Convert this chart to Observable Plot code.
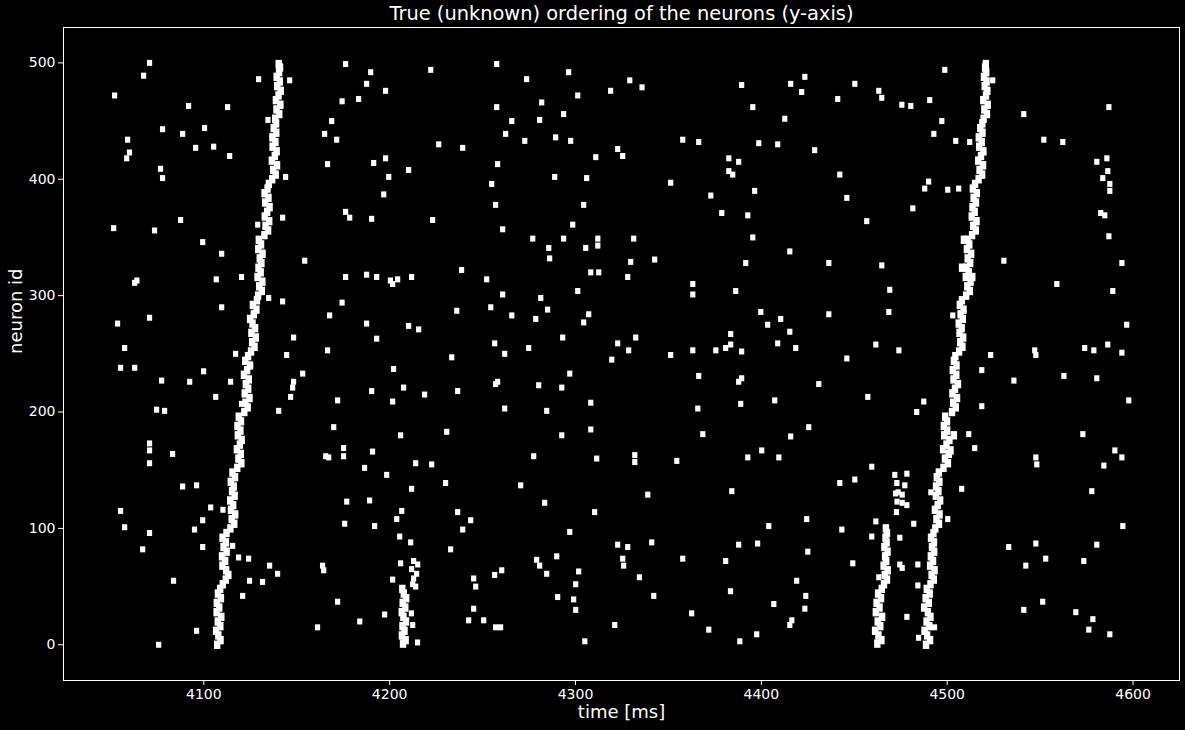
<!DOCTYPE html>
<html><head><meta charset="utf-8">
<script src="https://cdn.jsdelivr.net/npm/d3@7"></script>
<script src="https://cdn.jsdelivr.net/npm/@observablehq/plot@0.6"></script>
<style>
html,body{margin:0;padding:0;background:#000;}
#chart svg{display:block;}
</style></head><body>
<div id="chart"></div>
<script>
const title = "True (unknown) ordering of the neurons (y-axis)";
const xLabel = "time [ms]";
const yLabel = "neuron id";
const xTicks = [4100, 4200, 4300, 4400, 4500, 4600];
const yTicks = [0, 100, 200, 300, 400, 500];

// first full wave (neuron id vs spike time)
const wave1 = [
[4107.2,0],[4109,4],[4107.8,8],[4106.6,12],[4108.9,16],[4107.5,20],[4109.4,24],[4106.9,28],[4108.3,32],[4107,36],[4109.2,40],[4107.6,44],[4108.8,48],
[4110.2,52],[4111.8,56],[4113.2,60],[4112,64],[4110,68],[4111.5,72],[4109.8,76],[4112.3,80],[4110.6,84],[4111.9,88],[4110.1,92],[4112.2,96],
[4114.3,100],[4116.4,104],[4115,108],[4116.9,112],[4114.6,116],[4115.8,120],[4114.2,124],[4116.6,128],[4115.2,132],[4116.1,136],[4114.5,140],[4116.8,144],[4115.4,148],
[4118,152],[4120.2,156],[4118.6,160],[4119.9,164],[4117.8,168],[4119.4,172],[4120.4,176],[4118.3,180],[4119.7,184],[4118.1,188],[4120,192],[4118.8,196],
[4121.8,200],[4123.6,204],[4122.4,208],[4124.6,212],[4122,216],[4123.9,220],[4122.6,224],[4124.2,228],[4121.6,232],[4123.3,236],[4124.8,240],[4122.3,244],[4123.8,248],
[4125.4,252],[4127.3,256],[4126,260],[4128,264],[4125.6,268],[4127.6,272],[4126.2,276],[4124.9,280],[4126.9,284],[4128.3,288],[4126.4,292],[4128.6,296],
[4129.2,300],[4131.2,304],[4129.8,308],[4131.5,312],[4128.9,316],[4130.6,320],[4129.4,324],[4131,328],[4130.1,332],[4131.6,336],[4129.3,340],[4130.8,344],[4129.6,348],
[4132.6,352],[4134.6,356],[4133.2,360],[4135.2,364],[4132.8,368],[4134.1,372],[4135.4,376],[4133,380],[4134.8,384],[4132.7,388],[4134.3,392],[4135,396],
[4136.8,400],[4138.7,404],[4137.3,408],[4139.4,412],[4136.6,416],[4138.2,420],[4139.2,424],[4137,428],[4138.5,432],[4136.9,436],[4139,440],[4137.6,444],[4138.9,448],
[4138.4,452],[4140.6,456],[4139.1,460],[4141.2,464],[4138.8,468],[4140.2,472],[4141.4,476],[4139.5,480],[4140.9,484],[4139.2,488],[4140.5,492],[4141,496],[4140.3,499]
];

// second full wave
const wave2 = [
[4488.6,0],[4490.8,4],[4489.2,8],[4487.8,12],[4490.4,16],[4488.9,20],[4491,24],[4489.6,28],[4487.6,32],[4490.1,36],[4488.4,40],[4490.6,44],[4489,48],
[4491,52],[4492.8,56],[4491.6,60],[4493.2,64],[4490.8,68],[4492.4,72],[4491.2,76],[4493,80],[4491.8,84],[4492.9,88],[4491.3,92],[4492.6,96],
[4493.6,100],[4495.6,104],[4494.2,108],[4495.9,112],[4493.4,116],[4494.9,120],[4496.2,124],[4493.9,128],[4495.3,132],[4494,136],[4495.8,140],[4494.4,144],[4495.5,148],
[4498,152],[4500.4,156],[4498.8,160],[4500.9,164],[4497.8,168],[4499.6,172],[4501.2,176],[4498.4,180],[4500,184],[4498.2,188],[4499.9,192],[4498.9,196],
[4502.6,200],[4504.6,204],[4503.2,208],[4505.3,212],[4502.8,216],[4504.2,220],[4505.8,224],[4503.4,228],[4504.9,232],[4503,236],[4505,240],[4503.6,244],[4504.4,248],
[4506.4,252],[4508.2,256],[4507,260],[4508.6,264],[4506.6,268],[4507.8,272],[4506.2,276],[4508.4,280],[4507.2,284],[4508.8,288],[4506.8,292],[4507.9,296],
[4510.2,300],[4512.2,304],[4510.8,308],[4512.6,312],[4510,316],[4511.6,320],[4510.4,324],[4512.4,328],[4511,332],[4512.9,336],[4510.6,340],[4511.9,344],[4510.9,348],
[4513.4,352],[4515.4,356],[4514,360],[4515.8,364],[4513.2,368],[4514.8,372],[4513.6,376],[4515.5,380],[4514.2,384],[4515.9,388],[4513.8,392],[4515,396],
[4516.9,400],[4518.8,404],[4517.4,408],[4519.3,412],[4516.7,416],[4518.2,420],[4519.5,424],[4517.2,428],[4518.6,432],[4517,436],[4519,440],[4517.8,444],[4518.9,448],
[4519.6,452],[4521.4,456],[4520,460],[4521.8,464],[4519.4,468],[4520.9,472],[4521.6,476],[4520.2,480],[4521.2,484],[4519.8,488],[4521,492],[4520.4,496],[4520.8,499],
[4509,348],[4503.6,180],[4501.8,167],[4508,324],[4513.5,316]
];

// partial wave near 4207 ms
const partialA = [
[4207.2,1],[4208.6,4],[4206.6,8],[4208,12],[4206.9,16],[4208.8,20],[4207.4,24],[4206.5,28],[4208.4,32],[4207,36],[4208.9,40],[4207.6,44],[4206.8,48]
];
const partialAExtra = [
[4212.9,72],[4215.1,69],[4211.8,65],[4214.5,61],[4212.9,57],[4212.4,52],[4214,50]
];

// partial wave near 4465 ms
const partialB = [
[4462.4,1],[4464.6,4],[4463,8],[4461.2,12],[4464,16],[4462.6,20],[4465,24],[4461.6,28],[4463.6,32],[4462,36],[4464.4,40],[4462.8,44],[4464.8,48],
[4466,52],[4467.6,56],[4466.4,60],[4468,64],[4465.8,68],[4467.2,72],[4466.6,76],[4467.9,80],[4466.2,84],[4467.4,88],[4466.8,92],[4467.6,96],[4467,100]
];

// scattered spikes
const scattered = [
[4070.8,500],[4067.6,489],[4052.0,472],[4091.8,463],[4112.8,462],[4129.5,486],[4146.2,485],[4077.8,443],[4100.4,444],[4088.6,439],[4059.0,434],[4060.0,423],[4058.5,418],[4095.6,427],[4105.3,428],[4113.9,420],[4076.7,409],[4077.8,401],[4144.0,402],[4142.4,367],[4129.0,361],[4051.5,358],[4073.5,356],[4087.5,365],[4099.4,346],[4165.0,439],[4168.8,450],[4171.5,434],[4166.6,413],[4134.5,451],
[4109.6,336],[4106.7,314],[4120.3,316],[4154.3,330],[4062.8,311],[4064.0,313],[4109.6,290],[4134.9,298],[4142.4,295],[4167.7,283],[4070.8,281],[4053.6,276],[4057.4,255],[4055.2,238],[4062.8,238],[4077.3,227],[4092.4,226],[4099.9,235],[4114.4,226],[4106.4,213],[4117.1,250],[4125.2,240],[4120.3,207],[4148.3,264],[4144.6,249],[4166.6,253],[4153.2,233],[4148.3,226],[4147.8,221],[4146.7,213],[4140.3,201],[4172.0,210],[4169.9,187],[4165.6,162],[4167.2,161],[4074.6,202],[4078.9,201],[4070.8,173],[4070.8,167],[4083.2,164],
[4070.8,156],[4088.6,136],[4096.1,137],[4055.2,115],[4057.4,101],[4070.8,96],[4067.1,82],[4095.0,99],[4099.4,107],[4099.4,84],[4103.7,118],[4110.3,116],[4115.5,85],[4118.7,75],[4124.1,74],[4135.4,68],[4139.7,61],[4124.6,55],[4131.6,54],[4120.9,42],[4083.7,55],[4096.1,12],[4075.7,0],[4163.9,68],[4164.5,64],[4172.0,37],[4161.2,15],
[4186.5,152],[4198.4,146],[4214.0,156],[4222.6,155],[4211.8,134],[4230.1,139],[4270.5,137],[4176.9,123],[4189.2,124],[4206.5,115],[4203.8,108],[4175.8,104],[4191.9,102],[4236.6,114],[4243.6,107],[4239.3,99],[4283.4,122],[4310.3,114],[4296.9,97],[4232.8,82],[4279.1,73],[4280.7,68],[4284.5,61],[4289.9,76],[4256.5,60],[4260.3,64],[4245.2,57],[4246.3,50],[4245.2,31],[4242.5,21],[4250.6,21],[4257.0,15],[4259.7,15],[4290.4,41],[4299.0,39],[4300.1,30],[4300.1,52],[4301.7,63],[4305.0,3],[4321.1,17],[4322.7,86],[4328.1,84],[4325.4,74],[4325.9,68],[4334.4,58],
[4211.7,27],[4212.4,17],[4215.0,2],[4205.9,70],[4201.6,56],[4197.3,26],[4183.9,20],[4211.3,88],[4205.4,93],
[4354.5,158],[4338.9,129],[4384.1,132],[4459.4,153],[4442.2,139],[4450.3,142],[4461.6,106],[4443.3,99],[4459.4,93],[4474.5,92],[4482.0,104],[4404.0,102],[4424.4,108],[4341.0,88],[4387.8,86],[4398.0,87],[4357.7,74],[4380.8,72],[4425.0,80],[4449.2,70],[4474.5,69],[4475.8,66],[4484.2,69],[4342.1,42],[4383.4,46],[4419.0,55],[4423.9,42],[4423.4,31],[4406.7,35],[4463.2,58],[4362.5,27],[4416.4,21],[4415.3,17],[4371.7,13],[4397.5,9],[4388.4,3],[4478.3,24],[4484.2,51],[4484.6,6],
[4471.8,146],[4478.3,147],[4472.9,139],[4477.2,137],[4472.2,130],[4475.8,129],[4473.6,131],[4473.0,123],[4475.8,122],[4478.3,120],[4472.7,114],
[4491.2,131],[4507.8,134],[4500.3,108],[4548.2,155],[4584.3,154],[4577.8,132],[4594.5,102],[4533.1,84],[4547.7,87],[4553.0,74],[4542.3,68],[4573.5,72],[4580.5,86],[4493.2,15],[4541.2,30],[4551.4,37],[4569.2,28],[4578.4,22],[4576.2,13],[4587.5,9],
[4285.6,341],[4305.5,341],[4312.0,343],[4286.1,332],[4329.7,329],[4308.2,320],[4312.5,320],[4328.1,316],[4176.3,316],[4187.6,318],[4193.0,316],[4200.4,313],[4201.6,310],[4204.3,314],[4211.8,316],[4238.7,322],[4252.2,314],[4260.8,301],[4281.3,298],[4285.0,288],[4301.2,304],[4307.1,284],[4304.4,277],[4254.4,290],[4265.7,283],[4278.6,280],[4236.1,287],[4174.4,294],[4187.6,276],[4210.2,274],[4215.6,271],[4193.0,263],[4293.1,264],[4332.4,264],[4322.7,259],[4328.6,253],[4319.5,245],[4256.5,259],[4261.9,250],[4274.8,255],[4233.4,247],[4202.1,237],[4296.9,233],[4190.3,218],[4207.5,221],[4218.8,215],[4236.6,218],[4257.0,224],[4258.1,226],[4280.2,223],[4292.6,221],[4201.6,209],[4261.9,203],[4284.5,201],[4308.2,208],[4308.2,185],[4292.6,180],[4230.7,183],[4205.9,180],[4175.2,169],[4175.2,162],[4190.8,166],[4277.5,162],[4311.4,160],[4331.9,163],[4331.9,157],
[4176.3,499],[4189.8,492],[4187.6,482],[4197.8,476],[4174.4,467],[4183.3,469],[4222.1,494],[4257.6,499],[4273.7,486],[4296.3,492],[4329.2,485],[4335.8,479],[4318.9,476],[4301.2,472],[4281.8,466],[4257.6,462],[4265.7,450],[4280.7,451],[4293.6,456],[4262.4,439],[4272.7,433],[4289.3,436],[4297.4,433],[4226.4,430],[4239.3,427],[4310.9,419],[4322.7,426],[4325.4,420],[4191.4,414],[4197.8,418],[4210.2,408],[4199.5,402],[4196.8,387],[4258.1,413],[4254.9,396],[4288.8,402],[4306.0,401],[4257.0,378],[4304.4,378],[4176.3,372],[4178.5,367],[4190.3,366],[4223.1,365],[4260.8,357],[4298.5,361],[4277.0,349],[4293.6,349],[4312.0,349],[4331.3,349],
[4389.4,481],[4415.8,482],[4423.4,488],[4421.7,475],[4450.3,482],[4463.2,476],[4464.8,470],[4441.1,469],[4475.6,464],[4480.4,463],[4395.4,462],[4412.6,452],[4357.7,434],[4366.3,432],[4398.6,431],[4408.8,430],[4428.7,425],[4382.5,418],[4387.8,415],[4382.5,407],[4384.6,404],[4442.2,404],[4351.2,397],[4372.8,386],[4396.4,390],[4446.0,384],[4481.5,375],[4378.7,371],[4392.7,369],[4456.7,364],[4395.4,350],
[4498.7,494],[4524.5,485],[4490.6,468],[4497.1,450],[4492.8,439],[4504.6,433],[4512.1,432],[4541.2,456],[4552.0,434],[4562.2,432],[4587.0,462],[4580.5,415],[4585.9,418],[4586.4,407],[4583.7,401],[4587.5,396],[4587.5,390],[4490.0,398],[4487.9,392],[4500.3,391],[4506.2,392],[4582.6,371],[4584.8,369],[4587.0,351],
[4342.6,331],[4391.6,328],[4415.3,338],[4436.3,328],[4464.8,326],[4363.1,310],[4363.1,301],[4386.2,304],[4469.1,305],[4399.7,286],[4410.4,280],[4403.4,275],[4415.3,269],[4436.3,284],[4468.6,286],[4383.5,267],[4383.5,258],[4380.8,255],[4389.4,252],[4408.8,259],[4418.5,255],[4351.2,249],[4363.1,253],[4375.5,253],[4461.6,258],[4474.0,253],[4446.0,246],[4366.3,231],[4389.4,229],[4387.8,226],[4430.9,224],[4457.3,213],[4483.6,200],[4365.8,203],[4388.9,207],[4407.2,210],[4368.5,181],[4425.5,187],[4415.8,179],[4400.2,167],[4392.7,161],[4409.4,161],
[4530.5,330],[4594.0,328],[4559.0,310],[4589.1,304],[4596.6,275],[4503.0,283],[4574.0,255],[4578.9,253],[4586.4,258],[4594.0,251],[4547.1,253],[4547.7,249],[4523.4,249],[4518.6,236],[4535.9,227],[4562.8,231],[4580.5,229],[4487.4,209],[4518.6,205],[4597.7,210],[4511.6,181],[4514.8,169],[4573.0,181],[4590.2,167],[4594.0,161],[4547.7,161]
];

const toRows = arr => arr.map(([t, n]) => ({t, n}));
const waveSpikes = toRows([...wave1, ...wave2, ...partialA, ...partialB]);
const otherSpikes = toRows([...partialAExtra, ...scattered]);

const squareMarker = {draw(context) { context.rect(-2.6, -3, 5.2, 6); }};
const waveMarker = {draw(context) { context.rect(-3.2, -4.2, 6.4, 8.4); }};

const chart = Plot.plot({
  width: 1185,
  height: 730,
  marginLeft: 63,
  marginRight: 6,
  marginTop: 27,
  marginBottom: 50,
  style: {background: "black", color: "white", fontFamily: "DejaVu Sans", fontSize: "14px", overflow: "visible"},
  x: {domain: [4024.5, 4625]},
  y: {domain: [-30.7, 530.4]},
  marks: [
    Plot.dot(waveSpikes, {x: "t", y: "n", symbol: waveMarker, fill: "white", stroke: "none"}),
    Plot.dot(otherSpikes, {x: "t", y: "n", symbol: squareMarker, fill: "white", stroke: "none"}),
    Plot.frame({stroke: "white", strokeWidth: 1}),
    Plot.axisX({ticks: xTicks, tickFormat: d3.format("d"), tickSize: 5, tickPadding: 4, fontSize: 14, label: null}),
    Plot.axisY({ticks: yTicks, tickFormat: d3.format("d"), tickSize: 5, tickPadding: 3, fontSize: 14, label: null}),
    Plot.text([title], {frameAnchor: "top", dy: -8, lineAnchor: "bottom", fontSize: 19.4, fill: "white"}),
    Plot.text([xLabel], {frameAnchor: "bottom", dy: 37, fontSize: 18, fill: "white"}),
    Plot.text([yLabel], {frameAnchor: "left", dx: -47, rotate: -90, fontSize: 18, fill: "white"})
  ]
});
document.getElementById("chart").appendChild(chart);
</script>
</body></html>
